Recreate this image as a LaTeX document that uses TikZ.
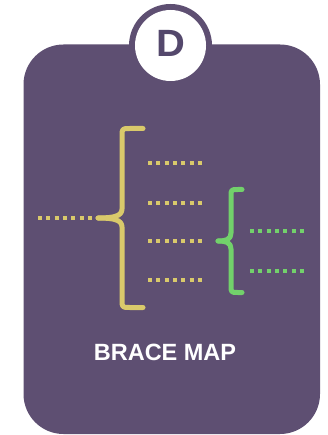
\documentclass[tikz,border=0pt]{standalone}
\usepackage{fontspec}
\setmainfont{Liberation Sans}
\begin{document}
\begin{tikzpicture}[x=1pt,y=-1pt,
  yel/.style={draw=braceyellow,line width=5pt,line cap=round,line join=round},
  grn/.style={draw=bracegreen,line width=5pt,line cap=round,line join=round},
  ydots/.style={draw=braceyellow,line width=4pt,dash pattern=on 4pt off 4.33pt},
  gdots/.style={draw=bracegreen,line width=4pt,dash pattern=on 4pt off 4.33pt}]
\definecolor{cardpurple}{HTML}{5E4F72}
\definecolor{braceyellow}{HTML}{D9C96B}
\definecolor{bracegreen}{HTML}{72D16B}
\definecolor{letterpurple}{HTML}{54486C}
\useasboundingbox (0,0) rectangle (327,435);
% card
\fill[cardpurple,rounded corners=40pt] (23.5,44.5) rectangle (320,434);
% badge
\fill[cardpurple] (170.5,45.5) circle (41.5);
\fill[white] (170.5,45.5) circle (35.5);
\node[text=letterpurple,font=\bfseries\fontsize{38}{38}\selectfont,xscale=1.05,inner sep=0pt] (badge) at (170.5,43.5) {D};
% yellow brace
\coordinate (ytop) at (143,128.5);
\coordinate (ytip) at (98,218);
\coordinate (ybot) at (143,307.5);
\draw[yel] (ytop) -- (130,128.5) .. controls (122,128.5) .. (122,136.5) -- (122,209)
  .. controls (122,216) and (114,218) .. (ytip);
\draw[yel] (ybot) -- (130,307.5) .. controls (122,307.5) .. (122,299.5) -- (122,227)
  .. controls (122,220) and (114,218) .. (ytip);
% left dotted input
\coordinate (in0) at (38,218);
\coordinate (in1) at (92,218);
\draw[ydots] (in0) -- (in1);
% yellow dotted outputs
\foreach \yy [count=\i] in {163,203,241,280}{
  \coordinate (yo\i a) at (148,\yy);
  \coordinate (yo\i b) at (204,\yy);
  \draw[ydots] (yo\i a) -- (yo\i b);
}
% green brace
\coordinate (gtop) at (242,189.5);
\coordinate (gtip) at (218,241);
\coordinate (gbot) at (242,292.5);
\draw[grn] (gtop) -- (238,189.5) .. controls (231,189.5) .. (231,196.5) -- (231,233)
  .. controls (231,239.5) and (226,241) .. (gtip);
\draw[grn] (gbot) -- (238,292.5) .. controls (231,292.5) .. (231,285.5) -- (231,249)
  .. controls (231,242.5) and (226,241) .. (gtip);
% green dotted outputs
\foreach \yy [count=\i] in {231,271}{
  \coordinate (go\i a) at (250,\yy);
  \coordinate (go\i b) at (304,\yy);
  \draw[gdots] (go\i a) -- (go\i b);
}
% title
\node[text=white,font=\bfseries\fontsize{23.5}{23.5}\selectfont] (title) at (165,352.5) {BRACE MAP};
\end{tikzpicture}
\end{document}
